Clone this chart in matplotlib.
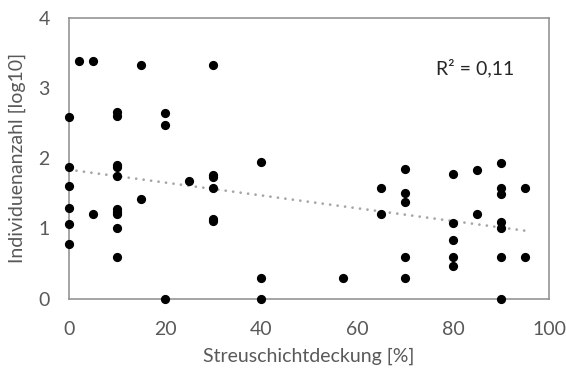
import numpy as np
import matplotlib
matplotlib.use("Agg")
import matplotlib.pyplot as plt

plt.rcParams['font.family'] = ['Lato', 'DejaVu Sans']

# Streuschichtdeckung [%] vs. Individuenanzahl [log10]
x_0 = [0, 0, 0, 0, 0, 0]
y_0 = [2.58, 1.88, 1.61, 1.29, 1.07, 0.78]
x_2 = [2]
y_2 = [3.39]
x_5 = [5, 5]
y_5 = [3.39, 1.20]
x_10 = [10] * 10
y_10 = [2.66, 2.60, 1.91, 1.87, 1.74, 1.28, 1.24, 1.20, 1.00, 0.60]
x_15 = [15, 15]
y_15 = [3.33, 1.42]
x_20 = [20, 20, 20]
y_20 = [2.64, 2.47, 0.00]
x_25 = [25]
y_25 = [1.67]
x_30 = [30] * 6
y_30 = [3.33, 1.76, 1.73, 1.58, 1.14, 1.11]
x_40 = [40, 40, 40]
y_40 = [1.94, 0.30, 0.00]
x_57 = [57]
y_57 = [0.30]
x_65 = [65, 65]
y_65 = [1.58, 1.20]
x_70 = [70] * 5
y_70 = [1.84, 1.50, 1.37, 0.60, 0.30]
x_80 = [80] * 5
y_80 = [1.78, 1.08, 0.84, 0.60, 0.47]
x_85 = [85, 85]
y_85 = [1.83, 1.20]
x_90 = [90] * 7
y_90 = [1.93, 1.58, 1.49, 1.09, 1.00, 0.60, 0.00]
x_95 = [95, 95]
y_95 = [1.58, 0.60]

xs = np.array(x_0 + x_2 + x_5 + x_10 + x_15 + x_20 + x_25 + x_30 + x_40 + x_57
              + x_65 + x_70 + x_80 + x_85 + x_90 + x_95, dtype=float)
ys = np.array(y_0 + y_2 + y_5 + y_10 + y_15 + y_20 + y_25 + y_30 + y_40 + y_57
              + y_65 + y_70 + y_80 + y_85 + y_90 + y_95, dtype=float)

x_ticks = [0, 20, 40, 60, 80, 100]
y_ticks = [0, 1, 2, 3, 4]
r2_label = "R² = 0,11"
x_title = "Streuschichtdeckung [%]"
y_title = "Individuenanzahl [log10]"

fig = plt.figure(figsize=(5.66, 3.72), dpi=100)
ax = fig.add_axes([69 / 566, 1 - 298.7 / 372, 480 / 566, (298.7 - 17.7) / 372])

# linear trendline
slope, intercept = np.polyfit(xs, ys, 1)
tx = np.array([xs.min(), xs.max()])
ax.plot(tx, intercept + slope * tx, color='#a6a6a6', lw=2.0,
        linestyle=(0, (0.01, 2.7)), dash_capstyle='round', zorder=2)

ax.scatter(xs, ys, s=44, color='black', zorder=3, clip_on=False, linewidths=0)

ax.set_xlim(0, 100)
ax.set_ylim(0, 4)
ax.set_xticks(x_ticks)
ax.set_yticks(y_ticks)
for s in ax.spines.values():
    s.set_color('#8c8c8c')
    s.set_linewidth(1.1)
ax.tick_params(length=0, labelsize=14, colors='#595959')
ax.tick_params(axis='y', pad=14)
ax.tick_params(axis='x', pad=16)

ax.set_xlabel(x_title, fontsize=14, color='#595959')
ax.set_ylabel(y_title, fontsize=14, color='#595959')
ax.xaxis.set_label_coords(0.5, -0.175)
ax.yaxis.set_label_coords(-0.09, 0.5)

ax.text((435.7 - 69) / 480, (298.7 - 75) / 280.3, r2_label, transform=ax.transAxes,
        fontsize=14, color='#262626', va='baseline', ha='left')

fig.savefig('out.png', dpi=100)
